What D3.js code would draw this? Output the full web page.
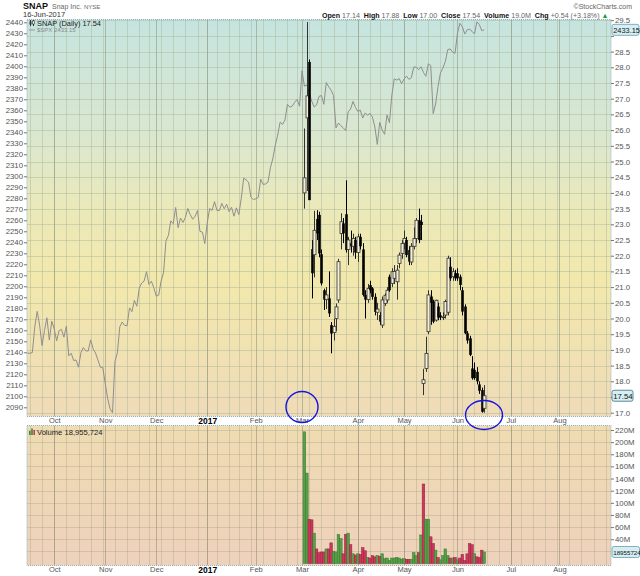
<!DOCTYPE html>
<html><head><meta charset="utf-8">
<script src="https://cdn.jsdelivr.net/npm/d3@7"></script>
<style>body{margin:0;background:#fff}svg{display:block}text{font-family:"Liberation Sans",Arial,sans-serif}</style>
</head><body><svg id="c" width="640" height="576"></svg>
<script>
// ---------------- DATA ----------------
const holidays = ["2016-11-24","2016-12-26","2017-01-02","2017-01-16","2017-02-20","2017-04-14","2017-05-29","2017-07-04"];
const spxFirstDay = "2016-09-16";
const snapFirstDay = "2017-03-02";
const spxClose = [
2139.16,2139.12,2139.76,2163.12,2177.18,2164.69,2146.10,2159.93,2171.37,2151.13,2168.27,
2161.20,2150.49,2159.73,2160.77,2153.74,2163.66,2136.73,2139.18,2132.55,2132.98,2126.50,2139.60,2144.29,2141.34,2141.16,2151.33,2143.16,2139.43,2133.04,2126.41,2126.15,
2111.72,2097.94,2088.66,2085.18,2131.52,2139.56,2163.26,2167.48,2164.45,2164.20,2180.39,2176.94,2187.12,2181.90,2198.18,2202.94,2204.72,2213.35,2201.72,2204.66,2198.81,
2191.08,2191.95,2204.71,2212.23,2241.35,2246.19,2259.53,2256.96,2271.72,2253.28,2262.03,2258.07,2262.53,2270.76,2265.18,2260.96,2263.79,2268.88,2249.92,2249.26,2238.83,
2257.83,2270.75,2269.00,2276.98,2268.90,2268.90,2275.32,2270.44,2274.64,2267.89,2271.89,2263.69,2271.31,2265.20,2280.07,2298.37,2296.68,2294.69,2280.90,2278.87,
2279.55,2280.85,2297.42,2292.56,2293.08,2294.67,2307.87,2316.10,2328.25,2337.58,2349.25,2347.22,2351.16,2365.38,2362.82,2363.81,2367.34,2369.75,2363.64,
2395.96,2381.92,2383.12,2375.31,2368.39,2362.98,2364.87,2372.60,2373.47,2365.45,2385.26,2381.38,2378.25,2373.47,2344.02,2348.45,2345.96,2343.98,2341.59,2358.57,2361.13,2368.06,2362.72,
2358.84,2360.16,2352.95,2357.49,2355.54,2357.16,2353.78,2344.93,2328.95,2349.01,2342.19,2338.17,2355.84,2348.69,2374.15,2388.61,2387.45,2388.77,2384.20,
2388.33,2391.17,2388.13,2389.52,2399.29,2399.38,2396.92,2399.63,2394.44,2390.90,2402.32,2400.67,2357.03,2365.72,2381.73,2394.02,2398.42,2404.39,2415.07,2415.82,2412.91,2411.80,
2430.06,2439.07,2436.10,2429.33,2433.14,2433.79,2431.77,2429.39,2440.35,2437.92,2432.46,2433.15];
// SNAP daily [open, high, low, close]
const snapOHLC = [
[24.00,26.05,23.50,24.48],[26.39,29.44,24.06,27.09],[28.17,28.25,23.77,23.77],[22.21,22.50,20.64,21.44],[22.03,23.43,21.31,22.81],
[23.17,23.45,22.50,22.71],[23.30,23.40,21.95,22.07],[22.05,22.20,21.05,21.12],[20.90,20.95,20.27,20.60],[20.60,21.00,20.30,20.75],
[20.64,21.50,20.05,20.16],[19.79,19.89,18.89,19.52],[19.55,20.00,19.30,19.75],[20.00,20.48,19.60,20.37],[20.59,21.90,20.50,21.81],
[22.71,23.35,22.20,23.08],[23.03,23.20,22.40,22.71],[23.32,24.40,22.10,22.18],[22.20,22.60,21.70,22.50],[22.40,22.80,22.10,22.30],
[22.30,22.70,22.00,22.55],[22.50,22.60,21.90,22.10],
[22.10,22.70,21.80,22.60],[22.60,22.70,22.20,22.30],[22.20,22.40,20.70,20.75],[20.75,20.90,20.00,20.60],[20.60,21.10,20.50,20.96],
[21.06,21.20,20.80,20.90],[20.96,21.00,20.60,20.69],[20.69,20.80,20.10,20.21],[20.20,20.50,19.95,20.30],[20.11,20.20,19.80,19.90],
[19.79,20.70,19.70,20.59],[20.48,20.80,20.40,20.74],[20.59,21.00,20.50,20.90],[21.33,21.40,20.85,20.90],[21.12,21.60,21.00,21.49],
[21.28,21.70,21.10,21.50],[21.17,21.70,20.60,21.54],[21.75,22.10,21.60,22.02],[22.07,22.50,21.90,22.39],
[22.40,22.80,22.20,22.55],[22.50,22.60,21.95,22.02],[22.18,22.30,21.70,21.81],[21.80,22.40,21.70,22.30],[22.30,22.90,22.20,22.55],
[22.55,23.20,22.40,23.13],[23.13,23.50,22.40,22.50],[23.08,23.30,22.50,22.98],[17.93,18.40,17.56,18.05],[18.41,19.42,18.30,18.89],
[19.58,20.90,19.50,20.75],[20.70,20.90,19.80,20.50],[20.54,20.60,19.85,19.90],[19.95,20.60,19.90,20.58],[20.38,20.50,19.95,20.03],
[20.10,20.20,19.95,20.03],[20.05,20.20,19.95,20.05],[20.11,20.60,20.00,20.54],[20.20,22.00,20.10,21.92],[21.65,21.95,21.20,21.28],
[21.33,21.60,21.20,21.49],[21.44,21.55,21.20,21.28],
[21.44,21.60,21.20,21.28],[21.33,21.40,20.90,21.07],[20.90,21.00,20.10,20.22],[20.38,20.45,19.50,19.53],[19.53,19.60,19.20,19.30],
[19.37,19.45,18.80,18.84],[18.41,18.80,18.05,18.10],[18.36,18.60,18.05,18.10],[18.30,18.45,17.90,18.00],[17.90,18.00,17.60,17.70],
[17.72,17.80,17.00,17.03],[17.14,17.88,17.00,17.54]];
// SNAP volume, millions of shares
const snapVolume = [217,149,73,72,50,24,18,19,19,24,24,34,20,19,48,41,16,48,50,31,16,14,16,15,26,21,10,9,13,11,13,12,16,8,9,5,9,9,10,9,7,8,7,7,7,18,13,18,47,131,73,73,44,33,22,10,6,13,24,13,9,9,10,6,9,15,5,16,33,31,16,11,10,22,19];
const spxTicks = [2090,2100,2110,2120,2130,2140,2150,2160,2170,2180,2190,2200,2210,2220,2230,2240,2250,2260,2270,2280,2290,2300,2310,2320,2330,2340,2350,2360,2370,2380,2390,2400,2410,2420,2430,2440];
const priceTicks = [17.0,17.5,18.0,18.5,19.0,19.5,20.0,20.5,21.0,21.5,22.0,22.5,23.0,23.5,24.0,24.5,25.0,25.5,26.0,26.5,27.0,27.5,28.0,28.5,29.0,29.5];
const volTicks = [40,60,80,100,120,140,160,180,200,220];
const volGrid = [20,40,60,80,100,120,140,160,180,200,220];
const monthLabels = ["Oct","Nov","Dec","2017","Feb","Mar","Apr","May","Jun","Jul","Aug"];
const lastSpx = "2433.15", lastClose = "17.54", lastVolume = "18955724";

// ---------------- LAYOUT ----------------
const svg = d3.select("#c");
const P = {l:27, r:611, t:19.5, b:416.5};
const V = {t:425.5, b:565.5};
const parse = d3.utcParse("%Y-%m-%d"), fmt = d3.utcFormat("%Y-%m-%d");
const hol = new Set(holidays);
const days = d3.utcDay.range(parse(spxFirstDay), parse("2017-09-01"))
  .filter(d => d.getUTCDay() % 6 !== 0 && !hol.has(fmt(d)));
const snapStart = days.findIndex(d => fmt(d) === snapFirstDay);

const x = d3.scaleLinear().domain([-0.2, 240.2]).range([P.l, P.r]);
const yR = d3.scaleLinear().domain([17.0, 29.5]).range([412.7, 20.2]);
const yL = d3.scaleLinear().domain([2090, 2440]).range([407.3, 22.3]);
const yV = d3.scaleLinear().domain([0, 220]).range([563.5, 430]);

const monthStarts = [], weekStarts = [];
days.forEach((d, i) => {
  if (i === 0) return;
  const p = days[i-1];
  if (d.getUTCMonth() !== p.getUTCMonth()) monthStarts.push(i);
  if (d.getUTCDay() < p.getUTCDay() || (d - p) > 3*864e5) weekStarts.push(i);
});

const defs = svg.append("defs");
const g1 = defs.append("linearGradient").attr("id","gm").attr("x1",0).attr("y1",0).attr("x2",0).attr("y2",1);
[[0,"#c5e4df"],[0.28,"#d9e7d0"],[0.48,"#ebe9b9"],[0.66,"#f2e8ac"],[1,"#efdbb8"]].forEach(s=>g1.append("stop").attr("offset",s[0]).attr("stop-color",s[1]));
const g2 = defs.append("linearGradient").attr("id","gv").attr("x1",0).attr("y1",0).attr("x2",0).attr("y2",1);
[[0,"#efdcb2"],[1,"#eed1bb"]].forEach(s=>g2.append("stop").attr("offset",s[0]).attr("stop-color",s[1]));
defs.append("clipPath").attr("id","cm").append("rect").attr("x",P.l).attr("y",P.t).attr("width",P.r-P.l).attr("height",P.b-P.t);
defs.append("clipPath").attr("id","cv").append("rect").attr("x",P.l).attr("y",V.t).attr("width",P.r-P.l).attr("height",V.b-V.t);

// panels
svg.append("rect").attr("x",P.l).attr("y",P.t).attr("width",P.r-P.l).attr("height",P.b-P.t).attr("fill","url(#gm)");
svg.append("rect").attr("x",P.l).attr("y",V.t).attr("width",P.r-P.l).attr("height",V.b-V.t).attr("fill","url(#gv)");

// grids
const gm = svg.append("g").attr("clip-path","url(#cm)");
gm.selectAll(".hg").data(priceTicks).join("line").attr("x1",P.l).attr("x2",P.r)
  .attr("y1",d=>Math.round(yR(d))+0.5).attr("y2",d=>Math.round(yR(d))+0.5).attr("stroke","#a9b39a").attr("stroke-opacity",0.45);
gm.selectAll(".wg").data(weekStarts).join("line").attr("y1",P.t).attr("y2",P.b)
  .attr("x1",d=>Math.round(x(d))+0.5).attr("x2",d=>Math.round(x(d))+0.5).attr("stroke","#a9b39a").attr("stroke-opacity",0.45);
gm.selectAll(".mg").data(monthStarts).join("line").attr("y1",P.t).attr("y2",P.b)
  .attr("x1",d=>Math.round(x(d))+0.5).attr("x2",d=>Math.round(x(d))+0.5).attr("stroke","#8f9a82").attr("stroke-opacity",0.6);
const gv = svg.append("g").attr("clip-path","url(#cv)");
gv.selectAll(".hg").data(volGrid).join("line").attr("x1",P.l).attr("x2",P.r)
  .attr("y1",d=>Math.round(yV(d))+0.5).attr("y2",d=>Math.round(yV(d))+0.5).attr("stroke","#a9a58a").attr("stroke-opacity",0.4);
gv.selectAll(".wg").data(weekStarts).join("line").attr("y1",V.t).attr("y2",V.b)
  .attr("x1",d=>Math.round(x(d))+0.5).attr("x2",d=>Math.round(x(d))+0.5).attr("stroke","#a9a58a").attr("stroke-opacity",0.4);
gv.selectAll(".mg").data(monthStarts).join("line").attr("y1",V.t).attr("y2",V.b)
  .attr("x1",d=>Math.round(x(d))+0.5).attr("x2",d=>Math.round(x(d))+0.5).attr("stroke","#8f8a72").attr("stroke-opacity",0.55);

// SPX line
gm.append("path").datum(spxClose).attr("fill","none").attr("stroke","#8e8e8e").attr("stroke-width",1)
  .attr("d", d3.line().x((d,i)=>x(i)).y(d=>yL(d)));

// candles
const cg = gm.append("g");
snapOHLC.forEach((c,k) => {
  const cx = Math.round(x(snapStart+k)) + 0.5;
  const [o,h,l,cl] = c;
  const up = cl >= o;
  cg.append("line").attr("x1",cx).attr("x2",cx).attr("y1",yR(h)).attr("y2",yR(l)).attr("stroke",up?"#333":"#000").attr("stroke-width",1);
  if (up) {
    cg.append("rect").attr("x",cx-1.5).attr("width",3).attr("y",yR(cl)).attr("height",Math.max(0.8,yR(o)-yR(cl)))
      .attr("fill","#f4efd6").attr("stroke","#333").attr("stroke-width",0.8);
  } else {
    cg.append("rect").attr("x",cx-1.3).attr("width",2.6).attr("y",yR(o)).attr("height",Math.max(1,yR(cl)-yR(o))).attr("fill","#000");
  }
});

// volume bars
snapVolume.forEach((v,k) => {
  const prev = k ? snapOHLC[k-1][3] : 0;
  const up = snapOHLC[k][3] >= prev;
  const cx = x(snapStart+k);
  gv.append("rect").attr("x",cx-1.3).attr("width",2.6).attr("y",yV(v)).attr("height",yV(0)-yV(v))
    .attr("fill",up?"#5a9e48":"#c9395c").attr("stroke",up?"#2f7d2f":"#9b1f3f").attr("stroke-width",0.5);
});

// borders
[[P.t,P.b],[V.t,V.b]].forEach(([t,b]) => svg.append("rect").attr("x",P.l).attr("y",t).attr("width",P.r-P.l).attr("height",b-t)
  .attr("fill","none").attr("stroke","#8fb3c2").attr("stroke-width",1).attr("stroke-dasharray","1,1"));

// axes
function styleAxis(g){ g.select(".domain").remove(); g.selectAll("line").attr("stroke","#777"); g.selectAll("text").attr("fill","#555").style("font-size","7.8px"); }
svg.append("g").attr("transform",`translate(${P.l},0)`).call(d3.axisLeft(yL).tickValues(spxTicks).tickSize(3).tickPadding(1).tickFormat(d3.format("d"))).call(styleAxis);
const boxYs = [yR(+lastClose), yL(+lastSpx)];
svg.append("g").attr("transform",`translate(${P.r},0)`)
  .call(d3.axisRight(yR).tickValues(priceTicks).tickSize(3).tickPadding(1)
    .tickFormat(d => boxYs.some(b => Math.abs(yR(d) - b) < 9) ? "" : d3.format(".1f")(d)))
  .call(styleAxis);
svg.append("g").attr("transform",`translate(${P.r},0)`).call(d3.axisRight(yV).tickValues(volTicks).tickSize(3).tickPadding(1).tickFormat(d=>d+"M")).call(styleAxis);
function monthAxis(y){
  const g = svg.append("g").attr("transform",`translate(0,${y})`)
    .call(d3.axisBottom(x).tickValues(monthStarts.slice(0, monthLabels.length)).tickSize(0).tickPadding(0).tickFormat((d,i)=>monthLabels[i]));
  g.select(".domain").remove();
  g.selectAll("text").attr("fill",(d,i)=>monthLabels[i]==="2017"?"#000":"#555")
    .style("font-size",(d,i)=>monthLabels[i]==="2017"?"8.5px":"7.5px").style("font-weight",(d,i)=>monthLabels[i]==="2017"?"bold":"normal");
}
monthAxis(417.5);
monthAxis(566.5);

// value boxes
function valBox(y, txt, w, fill, stroke, fs){
  svg.append("rect").attr("x",612).attr("y",y-5.5).attr("width",w).attr("height",11).attr("rx",2).attr("fill",fill).attr("stroke",stroke).attr("stroke-width",0.8);
  svg.append("text").attr("x",613.2).attr("y",y+3).attr("fill","#111").style("font-size",fs).text(txt);
}
valBox(yL(+lastSpx), lastSpx, 27, "#d6eef2", "#5f9fae", "7.4px");
valBox(yR(+lastClose), lastClose, 21, "#d6eef2", "#3f6f7e", "7.8px");
valBox(yV(+lastVolume/1e6), lastVolume, 27.5, "#d6eef2", "#5f9fae", "6.2px");

// header
const hdr = svg.append("g");
hdr.append("text").attr("x",23).attr("y",9).style("font-size","9px").style("font-weight","bold").attr("fill","#111").text("SNAP");
hdr.append("text").attr("x",52).attr("y",8.5).style("font-size","7px").attr("fill","#666").text("Snap Inc.");
hdr.append("text").attr("x",84).attr("y",8.5).style("font-size","6px").attr("fill","#666").text("NYSE");
hdr.append("text").attr("x",23).attr("y",17.2).style("font-size","7.5px").attr("fill","#333").text("16-Jun-2017");
hdr.append("text").attr("x",632).attr("y",8.5).attr("text-anchor","end").style("font-size","7px").attr("fill","#666").text("\u00A9StockCharts.com");
const info = hdr.append("text").attr("x",322).attr("y",17.5).style("font-size","7.1px");
[["Open",1],[" 17.14  ",0],["High",1],[" 17.88  ",0],["Low",1],[" 17.00  ",0],["Close",1],[" 17.54  ",0],["Volume",1],[" 19.0M  ",0],["Chg",1],[" +0.54 (+3.18%) ",0]]
  .forEach(([t,b]) => info.append("tspan").attr("fill", b?"#111":"#666").style("font-weight",b?"bold":"normal").attr("xml:space","preserve").text(t));
info.append("tspan").attr("fill","#2a9a2a").text("\u25B2");

// legends
svg.append("line").attr("x1",30.5).attr("x2",30.5).attr("y1",20).attr("y2",26).attr("stroke","#333");
svg.append("rect").attr("x",29.5).attr("y",21.5).attr("width",2).attr("height",3).attr("fill","#333");
svg.append("line").attr("x1",33.5).attr("x2",33.5).attr("y1",20).attr("y2",26).attr("stroke","#333");
svg.append("rect").attr("x",32.5).attr("y",21).attr("width",2).attr("height",3).attr("fill","#fff").attr("stroke","#333").attr("stroke-width",0.6);
svg.append("text").attr("x",37).attr("y",25.8).style("font-size","7.4px").attr("fill","#222").text("SNAP (Daily) " + lastClose);
svg.append("line").attr("x1",29).attr("x2",35).attr("y1",30).attr("y2",30).attr("stroke","#999");
svg.append("text").attr("x",37).attr("y",32).style("font-size","6px").attr("fill","#888").text("$SPX " + lastSpx);
svg.append("rect").attr("x",29).attr("y",431).attr("width",1.6).attr("height",4).attr("fill","#3a8a3a");
svg.append("rect").attr("x",31.2).attr("y",428.5).attr("width",1.6).attr("height",6.5).attr("fill","#3a8a3a");
svg.append("rect").attr("x",33.4).attr("y",430).attr("width",1.6).attr("height",5).attr("fill","#c9395c");
svg.append("text").attr("x",37).attr("y",435).style("font-size","7.6px").attr("fill","#222").text("Volume " + d3.format(",")(+lastVolume));

// annotations (hand-drawn circles)
svg.append("ellipse").attr("cx",302).attr("cy",407).attr("rx",16).attr("ry",15.5).attr("fill","none").attr("stroke","#1515e0").attr("stroke-width",1.4);
svg.append("ellipse").attr("cx",484).attr("cy",415).attr("rx",18.5).attr("ry",14.5).attr("fill","none").attr("stroke","#1515e0").attr("stroke-width",1.4);
</script></body></html>
